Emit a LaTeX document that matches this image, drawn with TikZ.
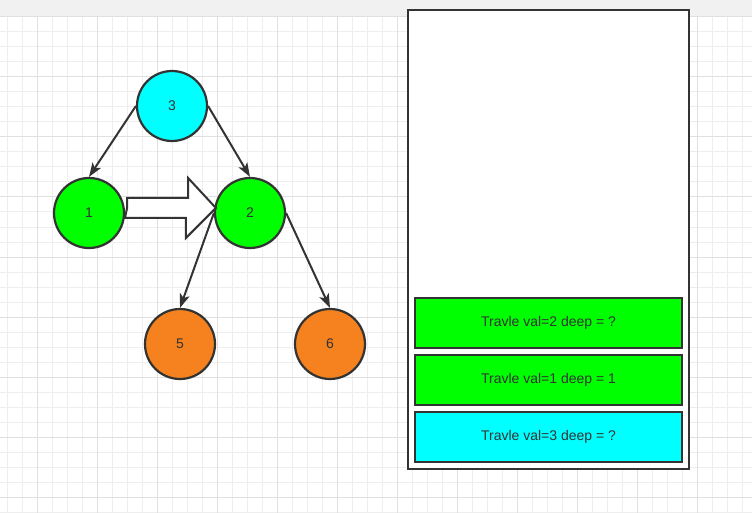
\documentclass[tikz,border=0pt]{standalone}
\usepackage{fontspec}
\setmainfont{Liberation Sans}
\usetikzlibrary{arrows.meta, positioning, calc}

\definecolor{linec}{HTML}{333333}
\definecolor{cyanfill}{HTML}{00FFFF}
\definecolor{greenfill}{HTML}{00FF00}
\definecolor{orangefill}{HTML}{F5821F}
\definecolor{topgray}{HTML}{F1F1F1}
\definecolor{gridminor}{HTML}{EEEEEE}
\definecolor{gridmajor}{HTML}{E0E0E0}

\begin{document}
\begin{tikzpicture}[
    x=1pt, y=-1pt,
    node distance=7pt,
    treenode/.style={circle, draw=linec, line width=2.2pt, minimum size=70pt,
    inner sep=0pt, text=linec, font=\fontsize{14}{16}\selectfont},
    stackbox/.style={rectangle, draw=linec, line width=2.4pt, minimum width=267pt,
    minimum height=50pt, inner sep=0pt, outer sep=0pt, text=linec,
    font=\fontsize{14}{16}\selectfont},
    arrow/.style={-{Stealth[length=14pt, width=10pt, inset=3.5pt]},
    line width=2pt, draw=linec},
    minorline/.style={draw=gridminor, line width=1pt},
    majorline/.style={draw=gridmajor, line width=1pt} ]

    % Canvas and grid
    \useasboundingbox (0,0) rectangle (752,513);
    \fill[topgray] (0,0) rectangle (752,17);
    \fill[white] (0,17) rectangle (752,513);
    \foreach \x in {7,22,...,752}
        \draw[minorline] (\x,17) -- (\x,513);
    \foreach \y in {17,32,...,513}
        \draw[minorline] (0,\y) -- (752,\y);
    \foreach \x in {37,97,...,752}
        \draw[majorline] (\x,17) -- (\x,513);
    \foreach \y in {17,77,...,513}
        \draw[majorline] (0,\y) -- (752,\y);

    % Tree nodes
    \node[treenode, fill=cyanfill] (n3) at (172,106) {3};
    \node[treenode, fill=greenfill] (n1) at (89,213) {1};
    \node[treenode, fill=greenfill] (n2) at (250,213) {2};
    \node[treenode, fill=orangefill] (n5) at (180,344) {5};
    \node[treenode, fill=orangefill] (n6) at (330,344) {6};

    % Tree edges
    \draw[arrow] (n3.west) -- (n1.north);
    \draw[arrow] (n3.east) -- (n2.north);
    \draw[arrow] (n2.west) -- (n5.north);
    \draw[arrow] (n2.east) -- (n6.north);

    % Block arrow from 1 to 2
    \draw[linec, line width=2pt, fill=white, line join=miter]
        ($(n1.east)+(2,-5)$) -- ++(0,-10) -- ++(61,0) -- ++(0,-20)
        -- ($(n2.west)+(2,-5)$) -- ++(-30,30) -- ++(0,-20) -- ++(-61,0)
        -- cycle;

    % Stack panel
    \node[rectangle, draw=linec, line width=2.4pt, fill=white, minimum width=281pt,
        minimum height=459pt, inner sep=0pt, outer sep=0pt] (stack)
        at (548.5,239.5) {};
    \node[stackbox, fill=cyanfill, above=7pt of stack.south] (s3)
        {Travle val=3 deep = ?};
    \node[stackbox, fill=greenfill, above=of s3] (s1)
        {Travle val=1 deep = 1};
    \node[stackbox, fill=greenfill, above=of s1] (s2)
        {Travle val=2 deep = ?};

\end{tikzpicture}
\end{document}
